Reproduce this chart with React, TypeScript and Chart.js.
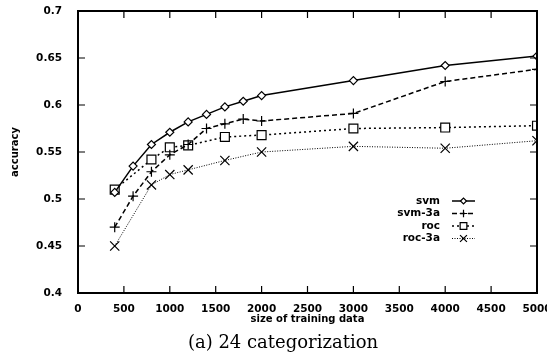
import React, { useEffect, useRef } from 'react';
import { Chart, registerables } from 'chart.js';
import { drawPoint } from 'chart.js/helpers';

Chart.register(...registerables);

// ---- data ----
const svmX = [400, 600, 800, 1000, 1200, 1400, 1600, 1800, 2000, 3000, 4000, 5000];
const svmY = [0.507, 0.535, 0.558, 0.571, 0.582, 0.59, 0.598, 0.604, 0.61, 0.626, 0.642, 0.652];
const svm3aX = [400, 600, 800, 1000, 1200, 1400, 1600, 1800, 2000, 3000, 4000, 5000];
const svm3aY = [0.47, 0.503, 0.529, 0.547, 0.558, 0.575, 0.58, 0.585, 0.583, 0.591, 0.625, 0.638];
const rocX = [400, 800, 1000, 1200, 1600, 2000, 3000, 4000, 5000];
const rocY = [0.51, 0.542, 0.555, 0.557, 0.566, 0.568, 0.575, 0.576, 0.578];
const roc3aX = [400, 800, 1000, 1200, 1600, 2000, 3000, 4000, 5000];
const roc3aY = [0.45, 0.515, 0.526, 0.531, 0.541, 0.55, 0.556, 0.554, 0.562];

const seriesNames = ['svm', 'svm-3a', 'roc', 'roc-3a'];
const xTickValues = [0, 500, 1000, 1500, 2000, 2500, 3000, 3500, 4000, 4500, 5000];
const xTickLabels = ['0', '500', '1000', '1500', '2000', '2500', '3000', '3500', '4000', '4500', '5000'];
const yTickValues = [0.4, 0.45, 0.5, 0.55, 0.6, 0.65, 0.7];
const yTickLabels = ['0.4', '0.45', '0.5', '0.55', '0.6', '0.65', '0.7'];
const xTitle = 'size of training data';
const yTitle = 'accuracy';
const caption = '(a) 24 categorization';

const pts = (xs: number[], ys: number[]) => xs.map((x, i) => ({ x, y: ys[i] }));

const styles = [
  { pointStyle: 'rectRot', radius: 4, dash: [] as number[], lw: 1.5 },
  { pointStyle: 'cross', radius: 5, dash: [5, 3], lw: 1.5 },
  { pointStyle: 'rect', radius: 6.3, dash: [2, 3], lw: 1.5 },
  { pointStyle: 'crossRot', radius: 6.5, dash: [1, 1.5], lw: 1 },
];

const SANS = '"DejaVu Sans", sans-serif';

const framePlugin = {
  id: 'frameTicks',
  afterDraw(chart: any) {
    const { ctx, chartArea: a, scales } = chart;
    const xs = scales.x;
    const ys = scales.y;
    ctx.save();
    ctx.strokeStyle = '#000';
    ctx.setLineDash([]);
    ctx.lineWidth = 1.2;
    const tl = 7;
    ctx.beginPath();
    xTickValues.forEach((v) => {
      const px = xs.getPixelForValue(v);
      ctx.moveTo(px, a.bottom);
      ctx.lineTo(px, a.bottom - tl);
      ctx.moveTo(px, a.top);
      ctx.lineTo(px, a.top + tl);
    });
    yTickValues.forEach((v) => {
      const py = ys.getPixelForValue(v);
      ctx.moveTo(a.left, py);
      ctx.lineTo(a.left + tl, py);
      ctx.moveTo(a.right, py);
      ctx.lineTo(a.right - tl, py);
    });
    ctx.stroke();
    ctx.lineWidth = 2;
    ctx.strokeRect(a.left, a.top, a.right - a.left, a.bottom - a.top);

    // legend
    const textRight = a.right - 97;
    const lineL = a.right - 85;
    const lineR = a.right - 62;
    const top0 = a.top + 190;
    const step = 12.5;
    ctx.font = `bold 10.5px ${SANS}`;
    ctx.textAlign = 'right';
    ctx.textBaseline = 'middle';
    ctx.fillStyle = '#000';
    chart.data.datasets.forEach((ds: any, i: number) => {
      const y = top0 + i * step;
      ctx.fillText(ds.label, textRight, y);
      const s = styles[i];
      ctx.lineWidth = s.lw;
      ctx.setLineDash(s.dash);
      ctx.beginPath();
      ctx.moveTo(lineL, y);
      ctx.lineTo(lineR, y);
      ctx.stroke();
      ctx.setLineDash([]);
      ctx.fillStyle = '#fff';
      ctx.strokeStyle = '#000';
      ctx.lineWidth = 1.2;
      drawPoint(ctx, { pointStyle: s.pointStyle, radius: s.radius * 0.75, rotation: 0, borderWidth: 1.2 } as any, (lineL + lineR) / 2, y);
      ctx.fillStyle = '#000';
    });
    ctx.restore();
  },
};

export default function App() {
  const ref = useRef<HTMLCanvasElement | null>(null);
  useEffect(() => {
    if (!ref.current) return;
    const dataSets = [pts(svmX, svmY), pts(svm3aX, svm3aY), pts(rocX, rocY), pts(roc3aX, roc3aY)];
    const chart = new Chart(ref.current, {
      type: 'scatter',
      data: {
        datasets: dataSets.map((d, i) => ({
          label: seriesNames[i],
          data: d,
          showLine: true,
          borderColor: '#000',
          borderWidth: styles[i].lw,
          borderDash: styles[i].dash,
          pointStyle: styles[i].pointStyle as any,
          pointRadius: styles[i].radius,
          pointBorderWidth: 1.2,
          pointBorderColor: '#000',
          pointBackgroundColor: '#fff',
          fill: false,
          tension: 0,
        })),
      },
      plugins: [framePlugin],
      options: {
        animation: false,
        responsive: false,
        maintainAspectRatio: false,
        layout: { padding: { top: 11, right: 10, bottom: 32, left: 0 } },
        plugins: { legend: { display: false }, tooltip: { enabled: false } },
        scales: {
          x: {
            type: 'linear',
            min: 0,
            max: 5000,
            grid: { display: false },
            border: { display: false },
            afterBuildTicks: (s: any) => {
              s.ticks = xTickValues.map((v) => ({ value: v }));
            },
            afterFit: (s: any) => {
              s.height = 37;
              s.paddingLeft = 0;
              s.paddingRight = 0;
            },
            ticks: {
              color: '#000',
              font: { family: SANS, size: 10.5, weight: 'bold' },
              padding: 2,
              maxRotation: 0,
              autoSkip: false,
              callback: (v: any) => {
                const i = xTickValues.indexOf(Number(v));
                return i >= 0 ? xTickLabels[i] : '';
              },
            },
            title: {
              display: true,
              text: xTitle,
              color: '#000',
              font: { family: SANS, size: 10, weight: 'bold' },
              padding: { top: 0, bottom: 5 },
            },
          },
          y: {
            type: 'linear',
            min: 0.4,
            max: 0.7,
            grid: { display: false },
            border: { display: false },
            afterBuildTicks: (s: any) => {
              s.ticks = yTickValues.map((v) => ({ value: v }));
            },
            afterFit: (s: any) => {
              s.width = 78;
              s.paddingTop = 0;
              s.paddingBottom = 0;
            },
            ticks: {
              color: '#000',
              font: { family: SANS, size: 10.5, weight: 'bold' },
              padding: 8,
              autoSkip: false,
              callback: (v: any) => {
                const i = yTickValues.findIndex((t) => Math.abs(t - Number(v)) < 1e-9);
                return i >= 0 ? yTickLabels[i] : '';
              },
            },
            title: {
              display: true,
              text: yTitle,
              color: '#000',
              font: { family: SANS, size: 10, weight: 'bold' },
              padding: { top: 9, bottom: 0 },
            },
          },
        },
      },
    });
    return () => chart.destroy();
  }, []);

  return (
    <div style={{ position: 'fixed', left: 0, top: 0, width: 547, height: 362, background: '#fff' }}>
      <canvas ref={ref} width={547} height={362} style={{ display: 'block', width: 547, height: 362 }} />
      <div
        style={{
          position: 'absolute',
          left: 0,
          width: 566,
          top: 330,
          textAlign: 'center',
          fontFamily: '"DejaVu Serif", serif',
          fontSize: 18,
          lineHeight: '24px',
          color: '#000',
        }}
      >
        {caption}
      </div>
    </div>
  );
}
